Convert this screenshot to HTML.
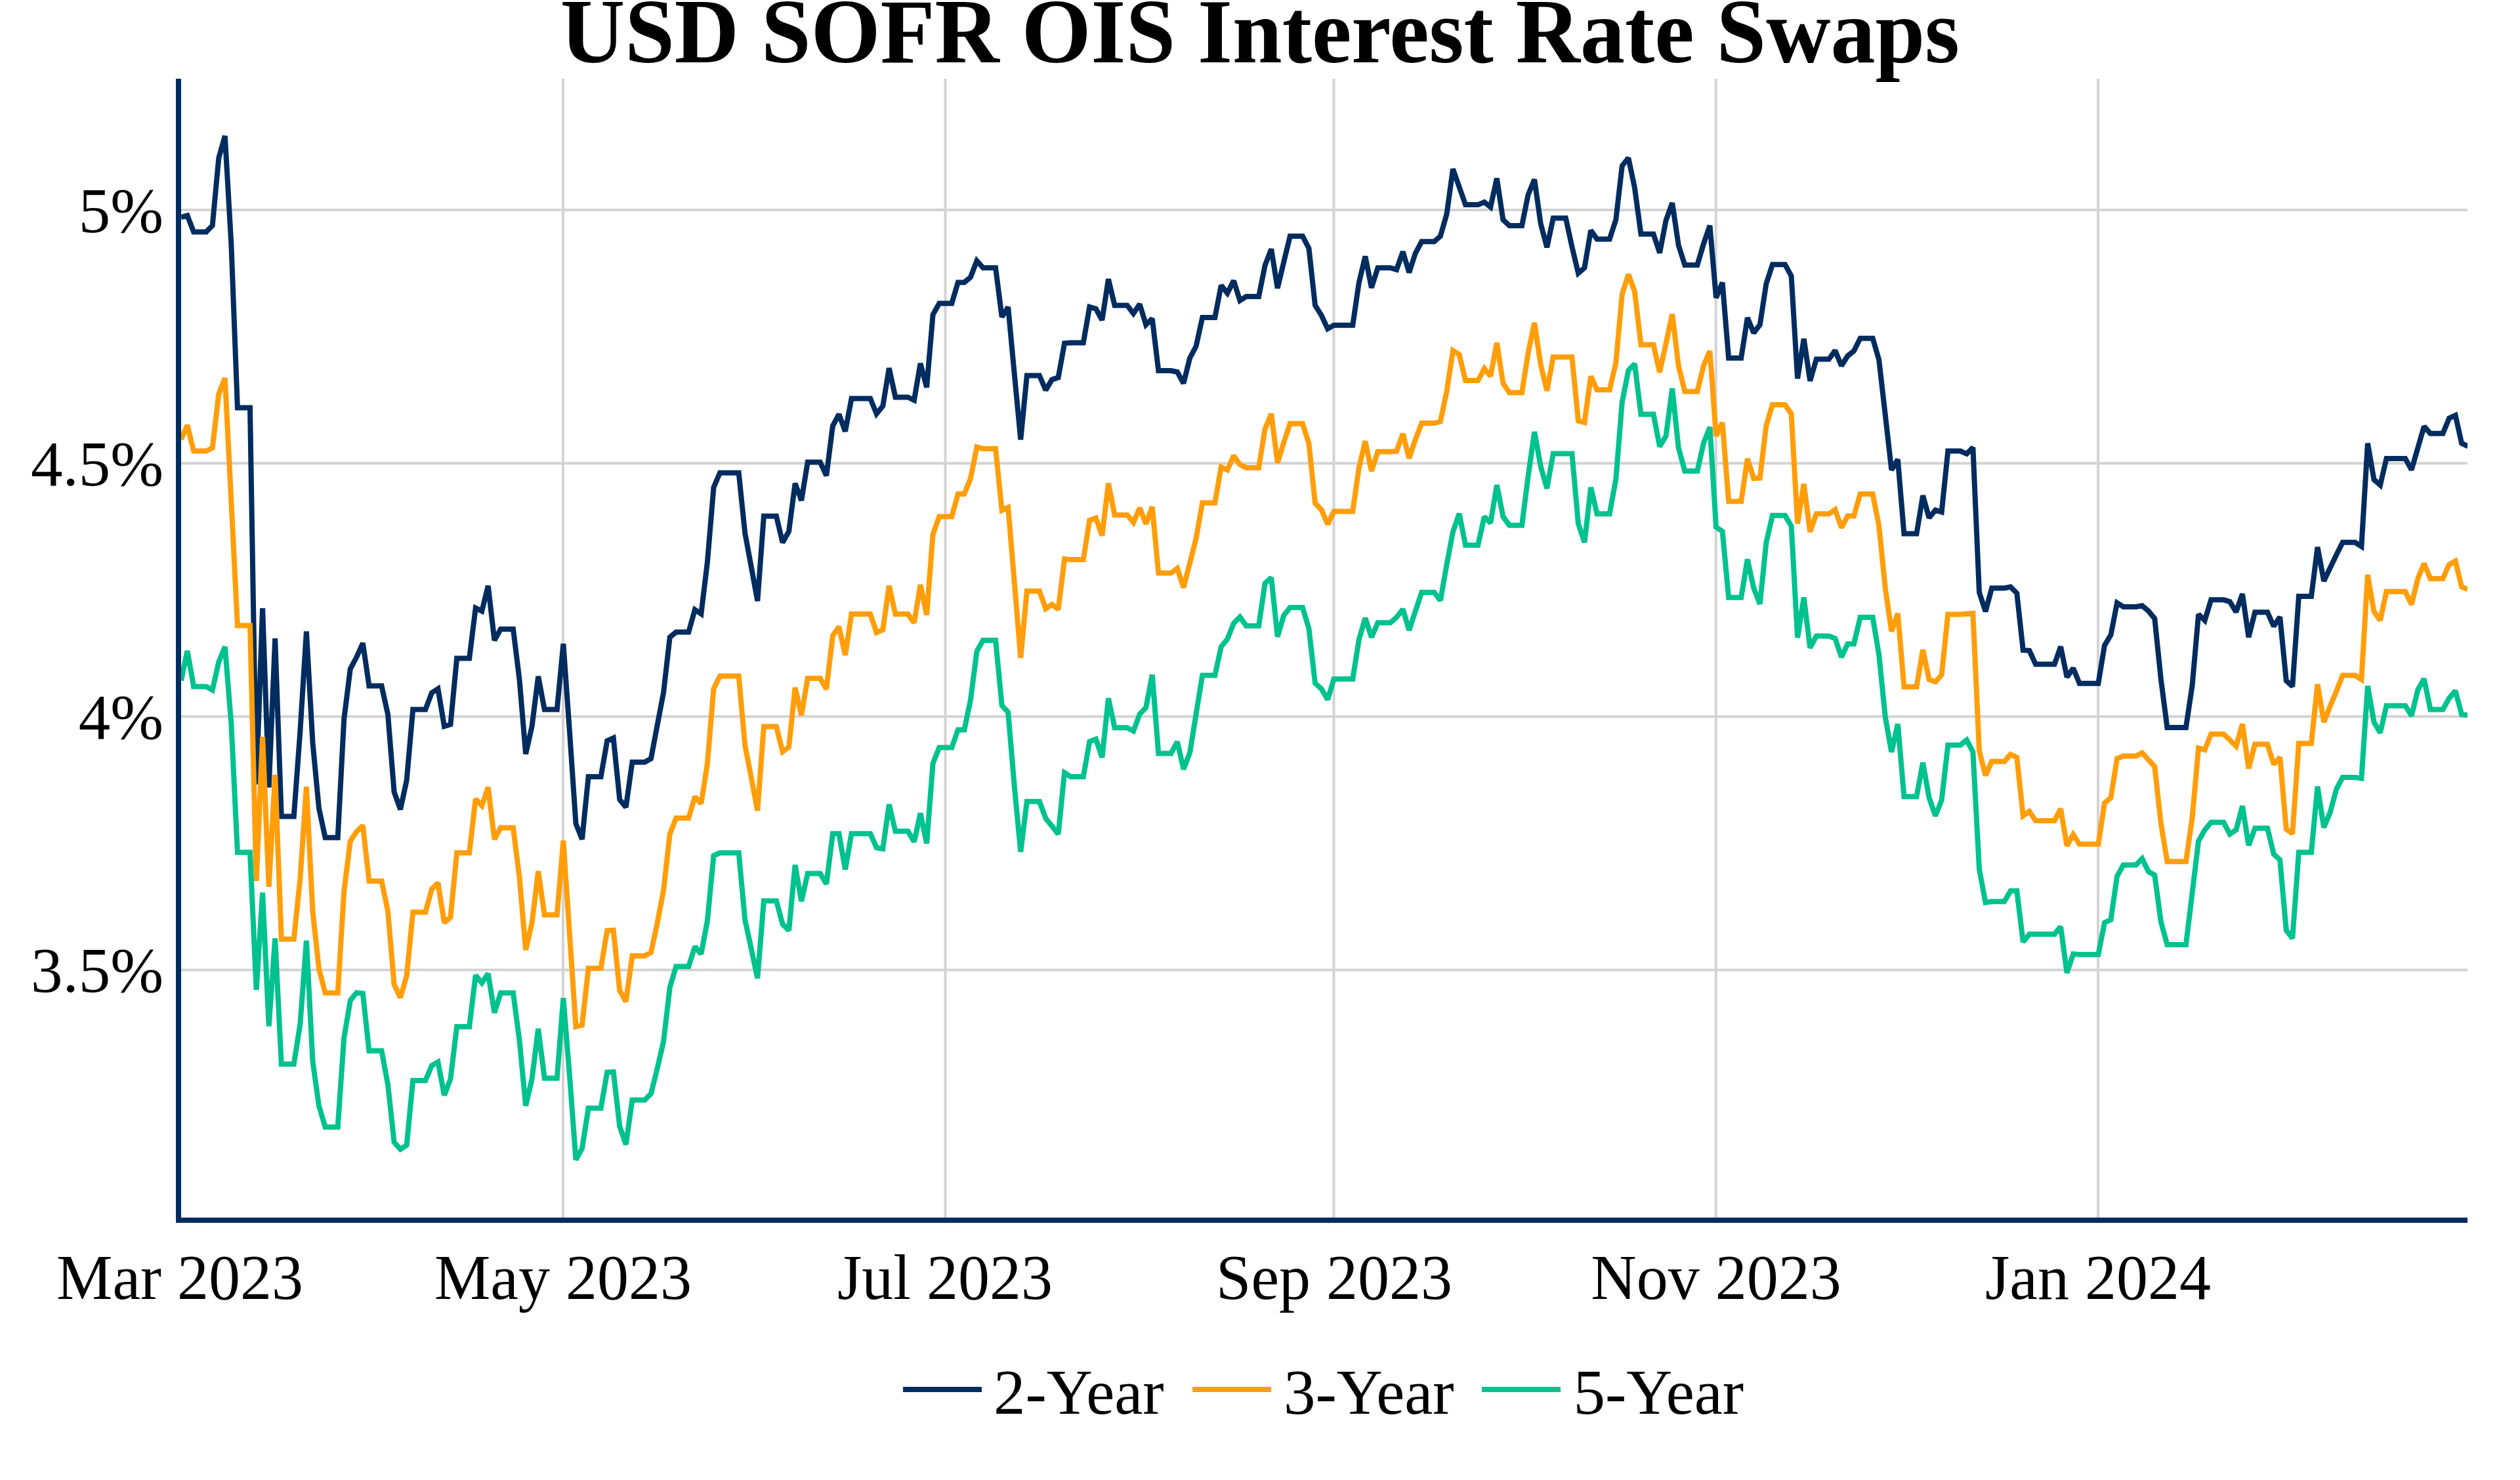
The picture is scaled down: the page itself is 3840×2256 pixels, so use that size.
<!DOCTYPE html>
<html><head><meta charset="utf-8"><title>USD SOFR OIS Interest Rate Swaps</title>
<style>
html,body{margin:0;padding:0;background:#fff;}
body{width:3840px;height:2256px;overflow:hidden;}
svg{display:block;}
text{font-family:"Liberation Serif",serif;fill:#000;}
.t{font-size:98px;}
.ln{fill:none;stroke-width:8;stroke-linejoin:miter;stroke-miterlimit:2;}
.g{stroke:#D3D3D3;stroke-width:4;}
</style></head><body>
<svg width="3840" height="2256" viewBox="0 0 3840 2256">
<rect width="3840" height="2256" fill="#fff"/>
<g class="g">
<line x1="858" y1="120" x2="858" y2="1856"/>
<line x1="1440.5" y1="120" x2="1440.5" y2="1856"/>
<line x1="2032.5" y1="120" x2="2032.5" y2="1856"/>
<line x1="2614.7" y1="120" x2="2614.7" y2="1856"/>
<line x1="3197.1" y1="120" x2="3197.1" y2="1856"/>
<line x1="276" y1="320.1" x2="3760" y2="320.1"/>
<line x1="276" y1="706.2" x2="3760" y2="706.2"/>
<line x1="276" y1="1092.3" x2="3760" y2="1092.3"/>
<line x1="276" y1="1478.4" x2="3760" y2="1478.4"/>
</g>
<clipPath id="c"><rect x="276" y="120" width="3484" height="1736"/></clipPath>
<g clip-path="url(#c)">
<path class="ln" stroke="#002C5F" d="M276.0,331.1L285.5,328.6L295.1,353.5L304.6,353.5L314.2,353.5L323.7,343.8L333.3,241.0L342.8,207.2L352.4,373.0L361.9,621.4L371.5,621.4L381.0,621.4L390.6,1195.7L400.1,927.1L409.7,1200.4L419.2,973.2L428.8,1244.6L438.3,1244.6L447.8,1244.6L457.4,1114.3L466.9,962.5L476.5,1132.1L486.0,1232.1L495.6,1276.8L505.1,1276.8L514.7,1276.8L524.2,1096.4L533.8,1019.6L543.3,1001.8L552.9,980.4L562.4,1045.4L572.0,1045.4L581.5,1045.4L591.1,1089.3L600.6,1207.1L610.1,1233.9L619.7,1189.3L629.2,1081.4L638.8,1081.4L648.3,1081.4L657.9,1056.1L667.4,1050.0L677.0,1107.1L686.5,1104.3L696.1,1003.6L705.6,1003.6L715.2,1003.6L724.7,926.8L734.3,931.4L743.8,892.9L753.4,976.1L762.9,958.9L772.4,958.9L782.0,958.9L791.5,1035.7L801.1,1149.3L810.6,1107.1L820.2,1031.1L829.7,1081.4L839.3,1081.4L848.8,1081.4L858.4,981.4L867.9,1114.3L877.5,1255.4L887.0,1279.3L896.6,1183.9L906.1,1183.9L915.6,1183.9L925.2,1129.3L934.7,1125.0L944.3,1218.9L953.8,1230.4L963.4,1161.8L972.9,1161.8L982.5,1161.8L992.0,1156.4L1001.6,1105.4L1011.1,1055.4L1020.7,971.4L1030.2,963.6L1039.8,963.6L1049.3,963.6L1058.9,929.3L1068.4,935.7L1077.9,857.1L1087.5,742.9L1097.0,720.7L1106.6,720.7L1116.1,720.7L1125.7,720.7L1135.2,812.5L1144.8,864.3L1154.3,916.1L1163.9,786.8L1173.4,786.8L1183.0,786.8L1192.5,827.1L1202.1,810.0L1211.6,736.8L1221.2,762.9L1230.7,704.6L1240.2,704.6L1249.8,704.6L1259.3,725.0L1268.9,649.3L1278.4,631.4L1288.0,657.5L1297.5,607.5L1307.1,607.5L1316.6,607.5L1326.2,607.5L1335.7,630.7L1345.3,618.9L1354.8,561.1L1364.4,605.4L1373.9,605.4L1383.5,605.4L1393.0,610.0L1402.5,553.9L1412.1,590.4L1421.6,479.6L1431.2,462.5L1440.7,462.5L1450.3,462.5L1459.8,430.4L1469.4,430.4L1478.9,422.5L1488.5,397.5L1498.0,408.2L1507.6,408.2L1517.1,408.2L1526.7,483.2L1536.2,468.2L1545.8,570.7L1555.3,670.0L1564.8,572.5L1574.4,572.5L1583.9,572.5L1593.5,594.6L1603.0,578.6L1612.6,575.4L1622.1,523.2L1631.7,522.5L1641.2,522.5L1650.8,522.5L1660.3,467.9L1669.9,470.7L1679.4,487.9L1689.0,425.4L1698.5,465.4L1708.1,465.4L1717.6,465.4L1727.1,477.9L1736.7,463.6L1746.2,495.0L1755.8,485.7L1765.3,565.0L1774.9,565.0L1784.4,565.0L1794.0,567.1L1803.5,584.3L1813.1,545.7L1822.6,527.9L1832.2,483.9L1841.7,483.9L1851.3,483.9L1860.8,435.0L1870.3,446.8L1879.9,427.9L1889.4,458.2L1899.0,452.1L1908.5,452.1L1918.1,452.1L1927.6,404.6L1937.2,379.6L1946.7,439.3L1956.3,399.3L1965.8,360.0L1975.4,360.0L1984.9,360.0L1994.5,378.6L2004.0,465.4L2013.6,480.7L2023.1,501.1L2032.6,495.7L2042.2,495.7L2051.7,495.7L2061.3,495.7L2070.8,430.7L2080.4,390.7L2089.9,438.6L2099.5,408.2L2109.0,408.2L2118.6,408.2L2128.1,411.1L2137.7,383.6L2147.2,415.4L2156.8,386.1L2166.3,368.2L2175.9,368.2L2185.4,368.2L2194.9,360.0L2204.5,326.4L2214.0,257.5L2223.6,285.0L2233.1,312.1L2242.7,312.1L2252.2,312.1L2261.8,308.2L2271.3,315.7L2280.9,271.8L2290.4,335.0L2300.0,343.9L2309.5,343.9L2319.1,343.9L2328.6,296.8L2338.2,273.6L2347.7,340.7L2357.2,377.1L2366.8,332.5L2376.3,332.5L2385.9,332.5L2395.4,376.1L2405.0,416.4L2414.5,408.2L2424.1,351.1L2433.6,364.6L2443.2,364.6L2452.7,364.6L2462.3,335.0L2471.8,252.9L2481.4,240.7L2490.9,286.1L2500.5,356.8L2510.0,356.8L2519.5,356.8L2529.1,385.4L2538.6,336.1L2548.2,309.3L2557.7,373.6L2567.3,403.9L2576.8,403.9L2586.4,403.9L2595.9,371.8L2605.5,343.9L2615.0,453.9L2624.6,430.7L2634.1,545.7L2643.7,545.7L2653.2,545.7L2662.8,484.3L2672.3,507.5L2681.8,495.0L2691.4,432.5L2700.9,403.2L2710.5,403.2L2720.0,403.2L2729.6,420.7L2739.1,577.1L2748.7,516.4L2758.2,580.7L2767.8,547.5L2777.3,547.5L2786.9,547.5L2796.4,534.3L2806.0,557.5L2815.5,542.5L2825.0,535.0L2834.6,515.7L2844.1,515.7L2853.7,515.7L2863.2,548.6L2872.8,632.5L2882.3,716.4L2891.9,700.4L2901.4,813.6L2911.0,813.6L2920.5,813.6L2930.1,755.4L2939.6,789.3L2949.2,777.5L2958.7,780.4L2968.3,687.5L2977.8,687.5L2987.3,687.5L2996.9,691.8L3006.4,682.1L3016.0,902.9L3025.5,932.1L3035.1,896.4L3044.6,896.4L3054.2,896.4L3063.7,894.6L3073.3,904.3L3082.8,991.1L3092.4,991.8L3101.9,1012.5L3111.5,1012.5L3121.0,1012.5L3130.6,1012.5L3140.1,985.7L3149.6,1032.1L3159.2,1018.6L3168.7,1041.8L3178.3,1041.8L3187.8,1041.8L3197.4,1041.8L3206.9,983.9L3216.5,967.9L3226.0,918.9L3235.6,925.0L3245.1,925.0L3254.7,925.0L3264.2,923.2L3273.8,931.4L3283.3,942.9L3292.9,1035.7L3302.4,1108.9L3311.9,1108.9L3321.5,1108.9L3331.0,1108.9L3340.6,1044.6L3350.1,936.4L3359.7,945.7L3369.2,914.3L3378.8,914.3L3388.3,914.3L3397.9,917.1L3407.4,932.9L3417.0,905.4L3426.5,971.4L3436.1,933.2L3445.6,933.2L3455.2,933.2L3464.7,954.6L3474.2,940.4L3483.8,1037.5L3493.3,1046.4L3502.9,908.9L3512.4,908.9L3522.0,908.9L3531.5,833.9L3541.1,885.7L3550.6,865.7L3560.2,845.7L3569.7,826.8L3579.3,826.8L3588.8,826.8L3598.4,832.9L3607.9,675.7L3617.5,731.1L3627.0,739.3L3636.5,698.9L3646.1,698.9L3655.6,698.9L3665.2,698.9L3674.7,716.1L3684.3,682.9L3693.8,650.0L3703.4,660.7L3712.9,660.7L3722.5,660.7L3732.0,637.5L3741.6,633.2L3751.1,675.7L3760.7,680.4"/>
<path class="ln" stroke="#FF9E0A" d="M276.0,670.0L285.5,648.2L295.1,687.5L304.6,687.5L314.2,687.5L323.7,682.9L333.3,600.7L342.8,576.1L352.4,764.6L361.9,953.6L371.5,953.6L381.0,953.6L390.6,1342.9L400.1,1123.2L409.7,1351.8L419.2,1181.1L428.8,1431.4L438.3,1431.4L447.8,1431.4L457.4,1339.3L466.9,1199.3L476.5,1389.3L486.0,1476.8L495.6,1513.6L505.1,1513.6L514.7,1513.6L524.2,1358.9L533.8,1282.1L543.3,1267.9L552.9,1258.2L562.4,1342.9L572.0,1342.9L581.5,1342.9L591.1,1389.3L600.6,1500.7L610.1,1520.7L619.7,1487.5L629.2,1390.4L638.8,1390.4L648.3,1390.4L657.9,1355.4L667.4,1345.7L677.0,1406.4L686.5,1398.2L696.1,1300.0L705.6,1300.0L715.2,1300.0L724.7,1217.9L734.3,1227.9L743.8,1200.0L753.4,1279.3L762.9,1261.8L772.4,1261.8L782.0,1261.8L791.5,1337.5L801.1,1448.2L810.6,1407.1L820.2,1327.9L829.7,1394.6L839.3,1394.6L848.8,1394.6L858.4,1281.4L867.9,1423.6L877.5,1565.0L887.0,1562.5L896.6,1476.1L906.1,1476.1L915.6,1476.1L925.2,1418.6L934.7,1417.9L944.3,1510.0L953.8,1526.8L963.4,1457.1L972.9,1457.1L982.5,1457.1L992.0,1451.8L1001.6,1407.1L1011.1,1357.1L1020.7,1271.4L1030.2,1247.1L1039.8,1247.1L1049.3,1247.1L1058.9,1214.3L1068.4,1225.0L1077.9,1164.3L1087.5,1050.0L1097.0,1030.4L1106.6,1030.4L1116.1,1030.4L1125.7,1030.4L1135.2,1135.7L1144.8,1185.7L1154.3,1235.7L1163.9,1107.5L1173.4,1107.5L1183.0,1107.5L1192.5,1145.7L1202.1,1138.6L1211.6,1048.2L1221.2,1090.4L1230.7,1033.9L1240.2,1033.9L1249.8,1033.9L1259.3,1050.4L1268.9,968.9L1278.4,955.4L1288.0,998.6L1297.5,936.1L1307.1,936.1L1316.6,936.1L1326.2,936.1L1335.7,964.3L1345.3,960.0L1354.8,892.9L1364.4,936.1L1373.9,936.1L1383.5,936.1L1393.0,949.3L1402.5,891.4L1412.1,937.5L1421.6,814.3L1431.2,787.5L1440.7,787.5L1450.3,787.5L1459.8,752.9L1469.4,752.9L1478.9,729.6L1488.5,681.4L1498.0,683.9L1507.6,683.9L1517.1,683.9L1526.7,777.9L1536.2,773.6L1545.8,888.2L1555.3,1002.9L1564.8,901.1L1574.4,901.1L1583.9,901.1L1593.5,927.9L1603.0,921.4L1612.6,928.9L1622.1,852.1L1631.7,852.9L1641.2,852.9L1650.8,852.9L1660.3,792.9L1669.9,789.6L1679.4,816.4L1689.0,736.8L1698.5,785.0L1708.1,785.0L1717.6,785.0L1727.1,796.4L1736.7,774.3L1746.2,798.6L1755.8,772.5L1765.3,873.6L1774.9,873.6L1784.4,873.6L1794.0,866.4L1803.5,895.7L1813.1,858.2L1822.6,820.7L1832.2,766.4L1841.7,766.4L1851.3,766.4L1860.8,711.8L1870.3,716.4L1879.9,694.6L1889.4,708.2L1899.0,712.9L1908.5,712.9L1918.1,712.9L1927.6,653.9L1937.2,630.7L1946.7,705.7L1956.3,674.3L1965.8,645.7L1975.4,645.7L1984.9,645.7L1994.5,676.1L2004.0,767.1L2013.6,777.1L2023.1,799.3L2032.6,779.6L2042.2,779.6L2051.7,779.6L2061.3,779.6L2070.8,712.9L2080.4,672.5L2089.9,718.2L2099.5,688.6L2109.0,688.6L2118.6,688.6L2128.1,687.9L2137.7,661.1L2147.2,698.6L2156.8,670.0L2166.3,645.0L2175.9,645.0L2185.4,645.0L2194.9,642.5L2204.5,596.8L2214.0,534.3L2223.6,540.4L2233.1,580.0L2242.7,580.0L2252.2,580.0L2261.8,561.8L2271.3,573.6L2280.9,522.5L2290.4,584.3L2300.0,598.6L2309.5,598.6L2319.1,598.6L2328.6,537.9L2338.2,492.1L2347.7,555.7L2357.2,595.7L2366.8,544.3L2376.3,544.3L2385.9,544.3L2395.4,544.3L2405.0,641.4L2414.5,643.9L2424.1,573.6L2433.6,594.3L2443.2,594.3L2452.7,594.3L2462.3,552.9L2471.8,448.6L2481.4,418.2L2490.9,444.3L2500.5,525.4L2510.0,525.4L2519.5,525.4L2529.1,567.5L2538.6,523.6L2548.2,478.9L2557.7,557.5L2567.3,596.8L2576.8,596.8L2586.4,596.8L2595.9,557.5L2605.5,535.0L2615.0,664.6L2624.6,644.3L2634.1,764.3L2643.7,764.3L2653.2,764.3L2662.8,699.3L2672.3,729.3L2681.8,728.6L2691.4,648.6L2700.9,617.1L2710.5,617.1L2720.0,617.1L2729.6,630.7L2739.1,798.2L2748.7,737.5L2758.2,810.7L2767.8,783.2L2777.3,783.2L2786.9,783.2L2796.4,776.8L2806.0,804.3L2815.5,786.4L2825.0,786.4L2834.6,752.9L2844.1,752.9L2853.7,752.9L2863.2,801.8L2872.8,896.4L2882.3,962.5L2891.9,935.0L2901.4,1047.1L2911.0,1047.1L2920.5,1047.1L2930.1,990.4L2939.6,1035.7L2949.2,1039.3L2958.7,1028.6L2968.3,936.4L2977.8,936.4L2987.3,936.4L2996.9,935.7L3006.4,935.0L3016.0,1144.6L3025.5,1182.1L3035.1,1160.7L3044.6,1160.7L3054.2,1160.7L3063.7,1150.0L3073.3,1154.6L3082.8,1243.6L3092.4,1236.8L3101.9,1251.1L3111.5,1251.1L3121.0,1251.1L3130.6,1251.1L3140.1,1232.9L3149.6,1289.3L3159.2,1272.1L3168.7,1286.8L3178.3,1286.8L3187.8,1286.8L3197.4,1286.8L3206.9,1224.3L3216.5,1216.1L3226.0,1156.4L3235.6,1152.5L3245.1,1152.5L3254.7,1152.5L3264.2,1147.5L3273.8,1158.2L3283.3,1168.6L3292.9,1255.4L3302.4,1313.2L3311.9,1313.2L3321.5,1313.2L3331.0,1313.2L3340.6,1246.4L3350.1,1140.4L3359.7,1142.9L3369.2,1118.9L3378.8,1118.9L3388.3,1118.9L3397.9,1127.9L3407.4,1137.5L3417.0,1103.6L3426.5,1171.4L3436.1,1134.6L3445.6,1134.6L3455.2,1134.6L3464.7,1165.0L3474.2,1154.3L3483.8,1263.6L3493.3,1270.7L3502.9,1133.2L3512.4,1133.2L3522.0,1133.2L3531.5,1042.9L3541.1,1100.7L3550.6,1076.8L3560.2,1053.6L3569.7,1029.6L3579.3,1029.6L3588.8,1029.6L3598.4,1035.7L3607.9,876.1L3617.5,932.1L3627.0,945.7L3636.5,901.8L3646.1,901.8L3655.6,901.8L3665.2,901.8L3674.7,921.4L3684.3,882.1L3693.8,858.9L3703.4,882.1L3712.9,882.1L3722.5,882.1L3732.0,860.7L3741.6,855.4L3751.1,894.6L3760.7,898.2"/>
<path class="ln" stroke="#00C28E" d="M276.0,1037.5L285.5,992.1L295.1,1046.4L304.6,1046.4L314.2,1046.4L323.7,1051.8L333.3,1008.9L342.8,985.7L352.4,1103.6L361.9,1299.3L371.5,1299.3L381.0,1299.3L390.6,1508.9L400.1,1360.7L409.7,1564.3L419.2,1430.4L428.8,1622.1L438.3,1622.1L447.8,1622.1L457.4,1560.7L466.9,1433.9L476.5,1617.9L486.0,1685.7L495.6,1717.9L505.1,1717.9L514.7,1717.9L524.2,1582.1L533.8,1525.0L543.3,1513.2L552.9,1514.3L562.4,1601.8L572.0,1601.8L581.5,1601.8L591.1,1653.6L600.6,1741.1L610.1,1751.8L619.7,1745.7L629.2,1647.1L638.8,1647.1L648.3,1647.1L657.9,1624.3L667.4,1618.9L677.0,1669.6L686.5,1644.6L696.1,1565.0L705.6,1565.0L715.2,1565.0L724.7,1486.4L734.3,1498.2L743.8,1483.9L753.4,1543.9L762.9,1513.6L772.4,1513.6L782.0,1513.6L791.5,1585.7L801.1,1685.7L810.6,1644.6L820.2,1567.9L829.7,1643.6L839.3,1643.6L848.8,1643.6L858.4,1521.4L867.9,1639.3L877.5,1767.9L887.0,1750.7L896.6,1689.3L906.1,1689.3L915.6,1689.3L925.2,1634.6L934.7,1633.9L944.3,1717.1L953.8,1744.6L963.4,1676.8L972.9,1676.8L982.5,1676.8L992.0,1667.1L1001.6,1628.6L1011.1,1587.5L1020.7,1505.4L1030.2,1473.2L1039.8,1473.2L1049.3,1473.2L1058.9,1442.9L1068.4,1454.3L1077.9,1403.6L1087.5,1304.3L1097.0,1300.0L1106.6,1300.0L1116.1,1300.0L1125.7,1300.0L1135.2,1401.8L1144.8,1446.4L1154.3,1491.1L1163.9,1373.2L1173.4,1373.2L1183.0,1373.2L1192.5,1408.6L1202.1,1418.4L1211.6,1318.4L1221.2,1373.8L1230.7,1331.4L1240.2,1331.4L1249.8,1331.4L1259.3,1347.5L1268.9,1270.7L1278.4,1270.7L1288.0,1325.4L1297.5,1270.7L1307.1,1270.7L1316.6,1270.7L1326.2,1270.7L1335.7,1292.1L1345.3,1293.9L1354.8,1226.1L1364.4,1267.1L1373.9,1267.1L1383.5,1267.1L1393.0,1283.2L1402.5,1239.6L1412.1,1285.7L1421.6,1163.6L1431.2,1139.6L1440.7,1139.6L1450.3,1139.6L1459.8,1112.5L1469.4,1112.5L1478.9,1067.1L1488.5,992.9L1498.0,976.1L1507.6,976.1L1517.1,976.1L1526.7,1075.4L1536.2,1085.7L1545.8,1199.3L1555.3,1298.6L1564.8,1221.8L1574.4,1221.8L1583.9,1221.8L1593.5,1247.5L1603.0,1259.3L1612.6,1271.4L1622.1,1177.9L1631.7,1183.9L1641.2,1183.9L1650.8,1183.9L1660.3,1130.4L1669.9,1126.8L1679.4,1154.6L1689.0,1064.3L1698.5,1109.3L1708.1,1109.3L1717.6,1109.3L1727.1,1114.3L1736.7,1088.6L1746.2,1078.6L1755.8,1028.6L1765.3,1148.6L1774.9,1148.6L1784.4,1148.6L1794.0,1130.7L1803.5,1172.5L1813.1,1147.5L1822.6,1088.6L1832.2,1029.6L1841.7,1029.6L1851.3,1029.6L1860.8,985.7L1870.3,974.3L1879.9,950.0L1889.4,940.4L1899.0,953.9L1908.5,953.9L1918.1,953.9L1927.6,889.3L1937.2,880.4L1946.7,970.7L1956.3,937.9L1965.8,926.1L1975.4,926.1L1984.9,926.1L1994.5,958.2L2004.0,1041.4L2013.6,1050.0L2023.1,1066.4L2032.6,1035.0L2042.2,1035.0L2051.7,1035.0L2061.3,1035.0L2070.8,975.0L2080.4,942.1L2089.9,971.4L2099.5,949.3L2109.0,949.3L2118.6,949.3L2128.1,941.1L2137.7,928.6L2147.2,960.7L2156.8,931.4L2166.3,902.9L2175.9,902.9L2185.4,902.9L2194.9,915.4L2204.5,860.7L2214.0,810.7L2223.6,782.9L2233.1,831.1L2242.7,831.1L2252.2,831.1L2261.8,787.5L2271.3,797.1L2280.9,739.3L2290.4,787.5L2300.0,800.7L2309.5,800.7L2319.1,800.7L2328.6,726.1L2338.2,658.2L2347.7,710.7L2357.2,744.6L2366.8,691.4L2376.3,691.4L2385.9,691.4L2395.4,691.4L2405.0,798.2L2414.5,826.8L2424.1,742.9L2433.6,783.2L2443.2,783.2L2452.7,783.2L2462.3,730.4L2471.8,612.9L2481.4,564.6L2490.9,554.6L2500.5,631.4L2510.0,631.4L2519.5,631.4L2529.1,680.7L2538.6,664.6L2548.2,592.1L2557.7,682.5L2567.3,717.9L2576.8,717.9L2586.4,717.9L2595.9,675.4L2605.5,651.1L2615.0,803.6L2624.6,810.0L2634.1,910.7L2643.7,910.7L2653.2,910.7L2662.8,852.5L2672.3,896.4L2681.8,920.7L2691.4,826.8L2700.9,785.7L2710.5,785.7L2720.0,785.7L2729.6,801.8L2739.1,972.1L2748.7,910.7L2758.2,987.5L2767.8,969.6L2777.3,969.6L2786.9,969.6L2796.4,973.2L2806.0,1001.8L2815.5,981.4L2825.0,981.4L2834.6,941.1L2844.1,941.1L2853.7,941.1L2863.2,998.2L2872.8,1092.9L2882.3,1146.4L2891.9,1103.6L2901.4,1214.3L2911.0,1214.3L2920.5,1214.3L2930.1,1162.5L2939.6,1216.1L2949.2,1243.6L2958.7,1219.6L2968.3,1135.7L2977.8,1135.7L2987.3,1135.7L2996.9,1127.9L3006.4,1146.4L3016.0,1325.0L3025.5,1375.7L3035.1,1374.3L3044.6,1374.3L3054.2,1374.3L3063.7,1357.9L3073.3,1357.9L3082.8,1435.7L3092.4,1423.9L3101.9,1423.9L3111.5,1423.9L3121.0,1423.9L3130.6,1423.9L3140.1,1412.5L3149.6,1482.9L3159.2,1454.3L3168.7,1455.0L3178.3,1455.0L3187.8,1455.0L3197.4,1455.0L3206.9,1406.4L3216.5,1401.8L3226.0,1335.7L3235.6,1318.6L3245.1,1318.6L3254.7,1318.6L3264.2,1308.9L3273.8,1328.6L3283.3,1333.9L3292.9,1405.4L3302.4,1440.0L3311.9,1440.0L3321.5,1440.0L3331.0,1440.0L3340.6,1360.7L3350.1,1282.1L3359.7,1265.0L3369.2,1253.6L3378.8,1253.6L3388.3,1253.6L3397.9,1271.4L3407.4,1265.0L3417.0,1228.6L3426.5,1288.6L3436.1,1262.5L3445.6,1262.5L3455.2,1262.5L3464.7,1301.8L3474.2,1310.7L3483.8,1417.9L3493.3,1430.4L3502.9,1299.3L3512.4,1299.3L3522.0,1299.3L3531.5,1198.9L3541.1,1261.4L3550.6,1238.6L3560.2,1202.9L3569.7,1185.0L3579.3,1185.0L3588.8,1185.0L3598.4,1186.4L3607.9,1045.7L3617.5,1100.7L3627.0,1117.1L3636.5,1075.7L3646.1,1075.7L3655.6,1075.7L3665.2,1075.7L3674.7,1091.1L3684.3,1051.8L3693.8,1034.6L3703.4,1081.4L3712.9,1081.4L3722.5,1081.4L3732.0,1064.3L3741.6,1052.9L3751.1,1089.3L3760.7,1090.0"/>
</g>
<line x1="272" y1="120" x2="272" y2="1864" stroke="#002C5F" stroke-width="8"/>
<line x1="268" y1="1860" x2="3760" y2="1860" stroke="#002C5F" stroke-width="8"/>
<text x="1920" y="95" text-anchor="middle" font-weight="bold" font-size="139" textLength="2132" lengthAdjust="spacingAndGlyphs">USD SOFR OIS Interest Rate Swaps</text>
<g class="t" text-anchor="end">
<text x="249" y="354" textLength="129.3" lengthAdjust="spacingAndGlyphs">5%</text>
<text x="249" y="740" textLength="202.1" lengthAdjust="spacingAndGlyphs">4.5%</text>
<text x="249" y="1126" textLength="129.3" lengthAdjust="spacingAndGlyphs">4%</text>
<text x="249" y="1512" textLength="202.1" lengthAdjust="spacingAndGlyphs">3.5%</text>
</g>
<g class="t" text-anchor="middle">
<text x="274" y="1980" textLength="375.9" lengthAdjust="spacingAndGlyphs">Mar 2023</text>
<text x="858" y="1980" textLength="392.0" lengthAdjust="spacingAndGlyphs">May 2023</text>
<text x="1440" y="1980" textLength="328.0" lengthAdjust="spacingAndGlyphs">Jul 2023</text>
<text x="2033" y="1980" textLength="360.0" lengthAdjust="spacingAndGlyphs">Sep 2023</text>
<text x="2615" y="1980" textLength="381.3" lengthAdjust="spacingAndGlyphs">Nov 2023</text>
<text x="3197" y="1980" textLength="344.0" lengthAdjust="spacingAndGlyphs">Jan 2024</text>
</g>
<g class="t">
<line x1="1376" y1="2118" x2="1496" y2="2118" stroke="#002C5F" stroke-width="8"/>
<text x="1514" y="2155" textLength="259.6" lengthAdjust="spacingAndGlyphs">2-Year</text>
<line x1="1817" y1="2118" x2="1937" y2="2118" stroke="#FF9E0A" stroke-width="8"/>
<text x="1956" y="2155" textLength="259.6" lengthAdjust="spacingAndGlyphs">3-Year</text>
<line x1="2258" y1="2118" x2="2378" y2="2118" stroke="#00C28E" stroke-width="8"/>
<text x="2397.5" y="2155" textLength="259.6" lengthAdjust="spacingAndGlyphs">5-Year</text>
</g>
</svg>
</body></html>
